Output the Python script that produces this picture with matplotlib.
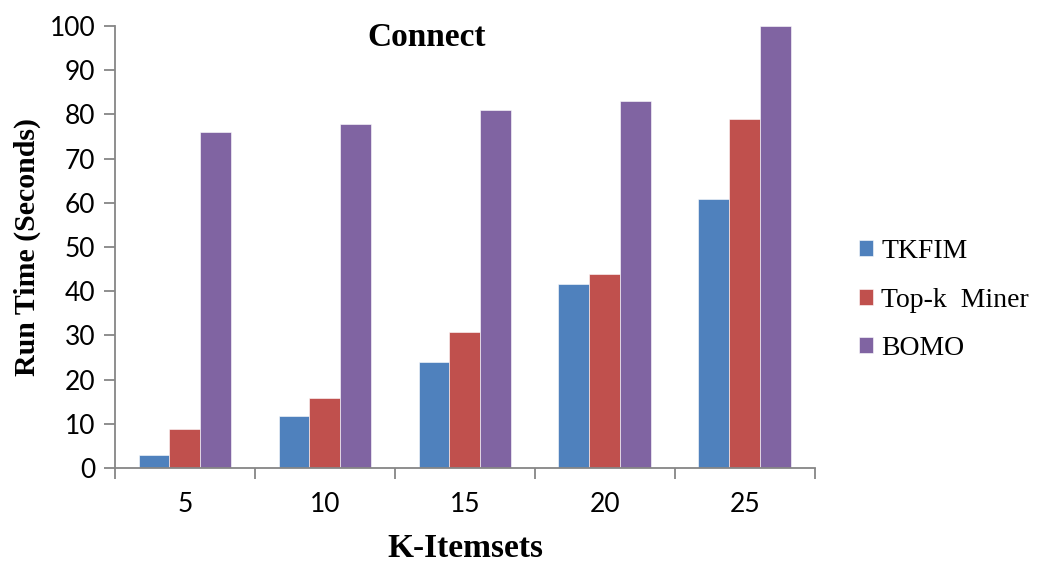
import matplotlib

matplotlib.use("Agg")
import matplotlib.pyplot as plt
import numpy as np

# run time (seconds) on the Connect dataset per top-k setting
k_values = ["5", "10", "15", "20", "25"]
tkfim = [3, 11.8, 24, 41.7, 60.8]
topk_miner = [8.9, 15.8, 30.8, 43.9, 79]
bomo = [76, 77.8, 81, 83, 100]

series = [("TKFIM", tkfim, "#4f81bd"),
          ("Top-k  Miner", topk_miner, "#c0504d"),
          ("BOMO", bomo, "#8064a2")]

fig = plt.figure(figsize=(10.47, 5.65), dpi=100)
ax = fig.add_axes([0.1098, 0.1717, 0.6685, 0.7823])

x = np.arange(len(k_values))
w = 0.221
for i, (name, vals, col) in enumerate(series):
    ax.bar(x + (i - 1) * w, vals, width=w, color=col, label=name,
           edgecolor="white", linewidth=0.4)

axis_grey = "#868686"
ax.set_xlim(-0.5, len(k_values) - 0.5)
ax.set_ylim(0, 100)
ax.set_yticks(range(0, 101, 10))
ax.set_xticks(x)
ax.set_xticklabels(k_values)
# category separators drawn as outward minor ticks
ax.set_xticks(np.arange(-0.5, len(k_values), 1.0), minor=True)
ax.tick_params(axis="x", which="major", length=0, pad=17)
ax.tick_params(axis="x", which="minor", length=8, width=1.3, color=axis_grey)
ax.tick_params(axis="y", length=8, width=1.3, color=axis_grey, pad=6)
for lab in ax.get_xticklabels() + ax.get_yticklabels():
    lab.set_fontfamily("Lato")
    lab.set_fontsize(19)

for side in ("top", "right"):
    ax.spines[side].set_visible(False)
for side in ("left", "bottom"):
    ax.spines[side].set_color(axis_grey)
    ax.spines[side].set_linewidth(1.3)

ax.set_xlabel("K-Itemsets", fontfamily="Liberation Serif", fontweight="bold",
              fontsize=24, labelpad=12)
ax.set_ylabel("Run Time (Seconds)", fontfamily="Liberation Serif",
              fontweight="bold", fontsize=21.5, labelpad=6)
ax.text(0.446, 0.973, "Connect", transform=ax.transAxes, ha="center",
        va="center", fontfamily="Liberation Serif", fontweight="bold",
        fontsize=24)

ax.legend(loc="center left", bbox_to_anchor=(1.063, 0.38), frameon=False,
          prop={"family": "Liberation Serif", "size": 20},
          borderaxespad=0, borderpad=0,
          handlelength=0.5, handleheight=0.5, handletextpad=0.3,
          labelspacing=0.85)

fig.savefig("out.png", dpi=100)
